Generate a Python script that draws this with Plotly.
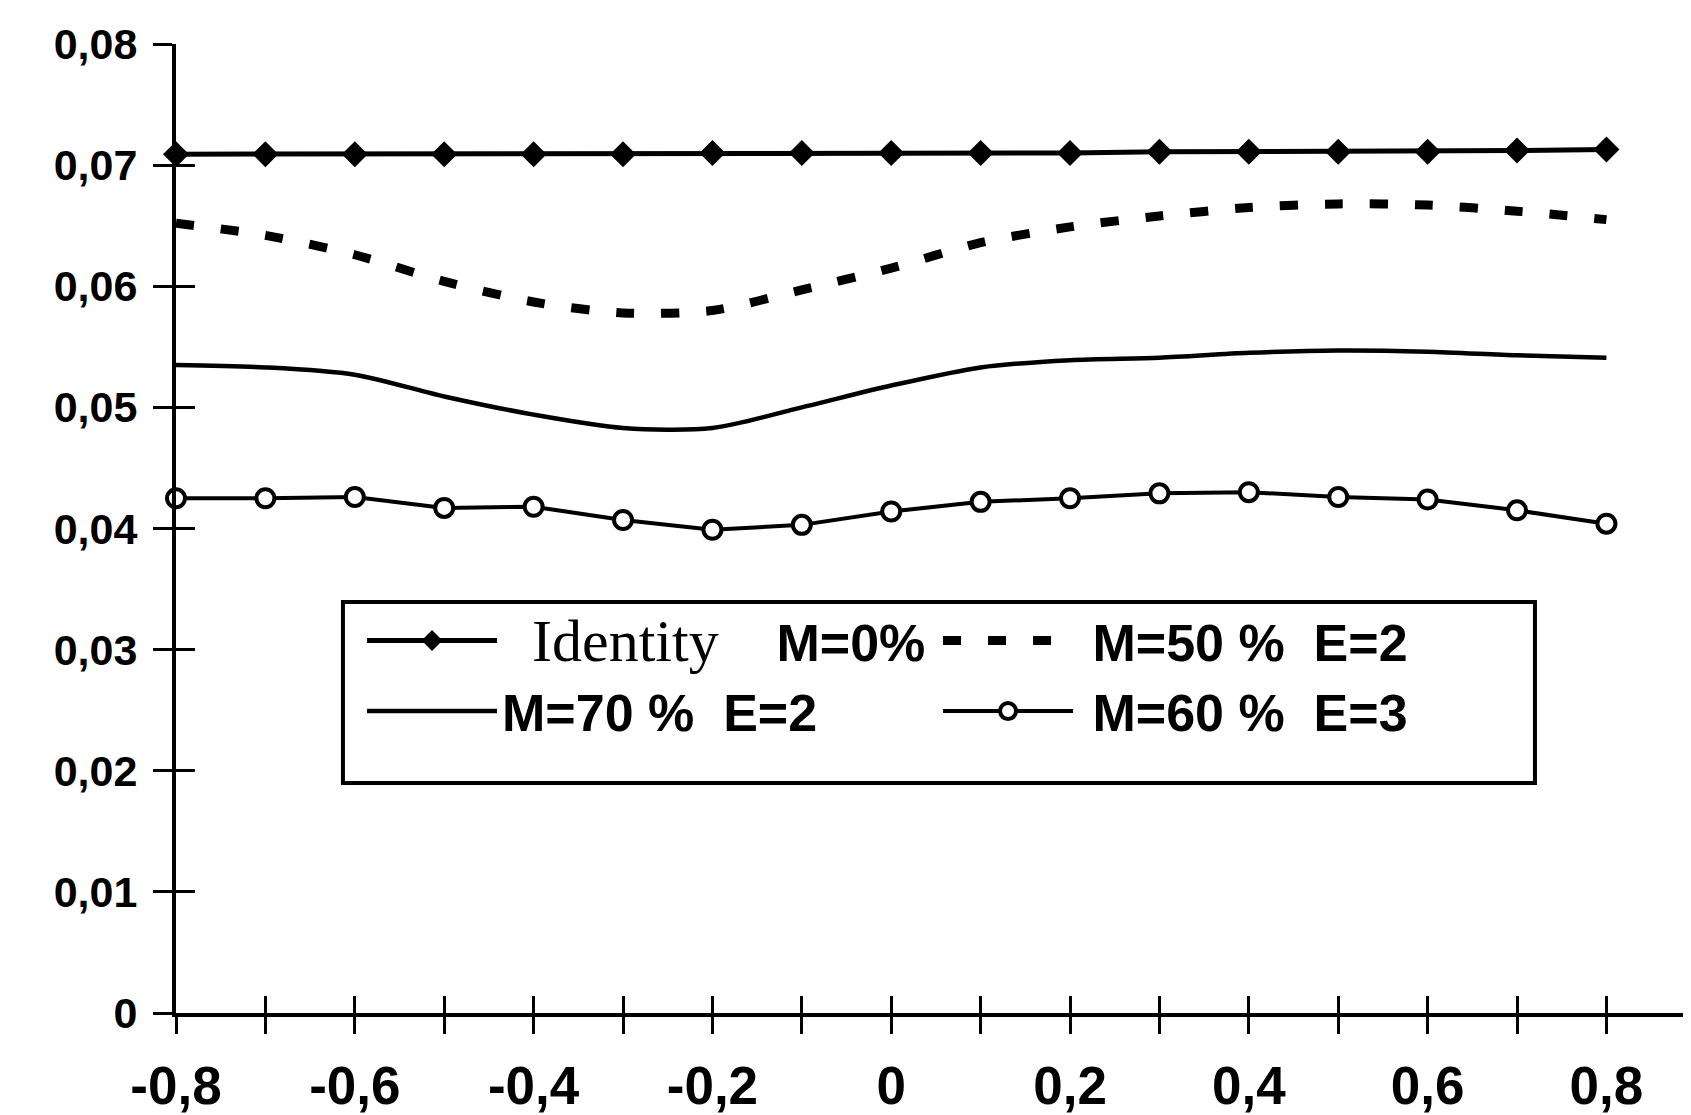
import plotly.graph_objects as go

# ---- data ----
x_vals = [-0.8, -0.7, -0.6, -0.5, -0.4, -0.3, -0.2, -0.1, 0.0, 0.1, 0.2, 0.3, 0.4, 0.5, 0.6, 0.7, 0.8]
identity_m0 = [0.0709, 0.0709, 0.0709, 0.0709, 0.0709, 0.0709, 0.0710, 0.0710, 0.0710, 0.0710, 0.0710,
               0.0711, 0.0711, 0.0711, 0.0711, 0.0712, 0.0713]
m50_e2 = [0.0652, 0.0642, 0.0626, 0.0604, 0.0587, 0.0578, 0.0580, 0.0597, 0.0615, 0.0636, 0.0649,
          0.0658, 0.0665, 0.0668, 0.0667, 0.0662, 0.0655]
m70_e2 = [0.0535, 0.0533, 0.0527, 0.0509, 0.0494, 0.0483, 0.0483, 0.0500, 0.0518, 0.0533, 0.0539,
          0.0541, 0.0545, 0.0547, 0.0546, 0.0543, 0.0541]
m60_e3 = [0.0425, 0.0425, 0.0426, 0.0417, 0.0418, 0.0407, 0.0399, 0.0403, 0.0414, 0.0422, 0.0425,
          0.0429, 0.0430, 0.0426, 0.0424, 0.0415, 0.0404]

series_names = [
    "<span style='font-family:Liberation Serif;font-weight:normal;font-size:60px'>\u00a0\u00a0Identity</span>\u00a0\u00a0\u00a0\u00a0M=0%",
    "\u00a0M=50 % \u00a0E=2",
    "M=70 % \u00a0E=2",
    "\u00a0M=60 % \u00a0E=3",
]

x_tick_vals = [-0.8, -0.7, -0.6, -0.5, -0.4, -0.3, -0.2, -0.1, 0.0, 0.1, 0.2, 0.3, 0.4, 0.5, 0.6, 0.7, 0.8]
x_tick_text = ["-0,8", "", "-0,6", "", "-0,4", "", "-0,2", "", "0", "", "0,2", "", "0,4", "", "0,6", "", "0,8"]
y_tick_vals = [0, 0.01, 0.02, 0.03, 0.04, 0.05, 0.06, 0.07, 0.08]
y_tick_text = ["0", "0,01", "0,02", "0,03", "0,04", "0,05", "0,06", "0,07", "0,08"]

X_RANGE = [-0.8, 0.8946]
Y_RANGE = [0, 0.08]

fig = go.Figure()

fig.add_trace(go.Scatter(
    x=x_vals, y=identity_m0, name=series_names[0], mode="lines+markers",
    line=dict(color="black", width=5),
    marker=dict(symbol="diamond", size=20, color="black"),
    cliponaxis=False,
))
fig.add_trace(go.Scatter(
    x=x_vals, y=m50_e2, name=series_names[1], mode="lines",
    line=dict(color="black", width=9, dash="18px,27px", shape="spline", smoothing=0.8),
    cliponaxis=False,
))
fig.add_trace(go.Scatter(
    x=x_vals, y=m70_e2, name=series_names[2], mode="lines",
    line=dict(color="black", width=4.5, shape="spline", smoothing=0.8),
    cliponaxis=False,
))
fig.add_trace(go.Scatter(
    x=x_vals, y=m60_e3, name=series_names[3], mode="lines+markers",
    line=dict(color="black", width=4),
    marker=dict(symbol="circle", size=18, color="white", line=dict(color="black", width=4)),
    cliponaxis=False,
))
# helper trace so the overlay axes (inner half of the cross ticks) are drawn
fig.add_trace(go.Scatter(x=[None], y=[None], xaxis="x2", yaxis="y2", showlegend=False, hoverinfo="skip"))

tick_font_x = dict(family="Liberation Sans, Arial, sans-serif", size=53, color="black", weight="bold")
tick_font_y = dict(family="Liberation Sans, Arial, sans-serif", size=43, color="black", weight="bold")

fig.update_layout(
    width=1683, height=1107,
    margin=dict(l=168, r=0, t=36, b=102, autoexpand=False),
    paper_bgcolor="white", plot_bgcolor="white",
    showlegend=True,
    legend=dict(
        orientation="h",
        x=0.1228, xanchor="left",
        y=0.426, yanchor="top",
        entrywidth=431, entrywidthmode="pixels",
        itemwidth=130,
        font=dict(family="Liberation Sans, Arial, sans-serif", size=52, color="black", weight="bold"),
        bgcolor="rgba(0,0,0,0)", borderwidth=0,
        tracegroupgap=0,
    ),
    xaxis=dict(
        range=X_RANGE, showgrid=False, zeroline=False, automargin=False,
        showline=True, linecolor="black", linewidth=4,
        tickmode="array", tickvals=x_tick_vals, ticktext=x_tick_text,
        ticks="outside", ticklen=17, tickwidth=3, tickcolor="black",
        tickfont=tick_font_x, ticklabelstandoff=6,
    ),
    yaxis=dict(
        range=Y_RANGE, showgrid=False, zeroline=False, automargin=False,
        showline=True, linecolor="black", linewidth=4,
        tickmode="array", tickvals=y_tick_vals, ticktext=y_tick_text,
        ticks="outside", ticklen=19, tickwidth=3, tickcolor="black",
        tickfont=tick_font_y, ticklabelstandoff=7,
    ),
    xaxis2=dict(
        overlaying="x", anchor="y2", range=X_RANGE, automargin=False,
        showgrid=False, zeroline=False, showline=False,
        tickmode="array", tickvals=x_tick_vals, showticklabels=False,
        ticks="inside", ticklen=17, tickwidth=3, tickcolor="black",
    ),
    yaxis2=dict(
        overlaying="y", anchor="x2", side="left", range=Y_RANGE, automargin=False,
        showgrid=False, zeroline=False, showline=False,
        tickmode="array", tickvals=y_tick_vals, showticklabels=False,
        ticks="inside", ticklen=19, tickwidth=3, tickcolor="black",
    ),
    shapes=[dict(
        type="rect", xref="paper", yref="paper",
        x0=0.1102, x1=0.897, y0=0.2374, y1=0.4241,
        line=dict(color="black", width=4), fillcolor="white", layer="below",
    )],
)

fig.write_html("out.html")
